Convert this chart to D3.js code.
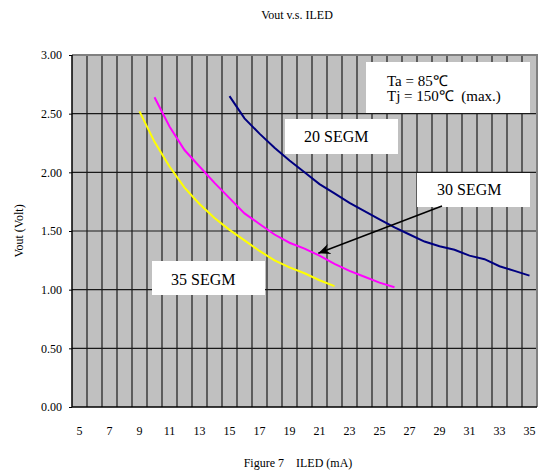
<!DOCTYPE html>
<html>
<head>
<meta charset="utf-8">
<script src="https://cdn.jsdelivr.net/npm/d3@7"></script>
<style>
  body { margin: 0; background: #fff; }
</style>
</head>
<body>
<div id="chart"></div>
<script>
// ILED categories (mA), one per grid column
const currents = d3.range(5, 36);
const tickLabels = [5, 7, 9, 11, 13, 15, 17, 19, 21, 23, 25, 27, 29, 31, 33, 35];
const yTicks = [0, 0.5, 1, 1.5, 2, 2.5, 3];

// Vout readings (Volt) for each series, starting at their first current
const seg20Start = 15;
const seg20 = [2.65, 2.46, 2.33, 2.21, 2.10, 2.00, 1.90, 1.82, 1.74, 1.67, 1.60,
               1.53, 1.47, 1.41, 1.37, 1.34, 1.29, 1.26, 1.20, 1.16, 1.12];
const seg30Start = 10;
const seg30 = [2.64, 2.39, 2.19, 2.05, 1.91, 1.78, 1.65, 1.56, 1.47, 1.40, 1.35,
               1.29, 1.22, 1.16, 1.11, 1.06, 1.02];
const seg35Start = 9;
const seg35 = [2.52, 2.26, 2.05, 1.87, 1.73, 1.61, 1.51, 1.42, 1.33, 1.25, 1.19,
               1.14, 1.08, 1.03];

const W = 542, H = 470;
const pLeft = 72, pRight = 537, pTop = 55, pBottom = 407;
const SERIF = "'Liberation Serif', 'Times New Roman', serif";

const svg = d3.select("#chart").append("svg")
    .attr("width", W).attr("height", H)
    .attr("font-family", SERIF);

const x = d3.scaleBand().domain(currents).range([pLeft, pRight]).padding(0);
const y = d3.scaleLinear().domain([0, 3]).range([pBottom, pTop]);
const cx = v => x(v) + x.bandwidth() / 2;

// plot background
svg.append("rect")
    .attr("x", pLeft).attr("y", pTop)
    .attr("width", pRight - pLeft).attr("height", pBottom - pTop)
    .attr("fill", "#c0c0c0");

// grid: verticals at the category boundaries, horizontals at the ticks
const grid = svg.append("g").attr("stroke", "#1a1a1a").attr("stroke-width", 1.2);
grid.selectAll(".vg").data(currents.slice(1)).enter().append("line")
    .attr("x1", d => x(d)).attr("x2", d => x(d))
    .attr("y1", pTop).attr("y2", pBottom);
grid.selectAll(".hg").data(yTicks.slice(1, -1)).enter().append("line")
    .attr("x1", pLeft).attr("x2", pRight)
    .attr("y1", d => y(d)).attr("y2", d => y(d));

// frame: grey on top / right, black axes
svg.append("path")
    .attr("d", `M${pLeft},${pTop}H${pRight}V${pBottom}`)
    .attr("fill", "none").attr("stroke", "#808080").attr("stroke-width", 2);
svg.append("path")
    .attr("d", `M${pLeft},${pTop}V${pBottom}H${pRight}`)
    .attr("fill", "none").attr("stroke", "#000").attr("stroke-width", 1.5);

// axes
const xAxis = svg.append("g")
    .attr("transform", `translate(0,${pBottom})`)
    .call(d3.axisBottom(x).tickValues(tickLabels).tickSize(0).tickPadding(19));
xAxis.select(".domain").remove();
xAxis.attr("font-family", SERIF).attr("font-size", 12);

const yAxis = svg.append("g")
    .attr("transform", `translate(${pLeft},0)`)
    .call(d3.axisLeft(y).tickValues(yTicks).tickFormat(d3.format(".2f")).tickSize(3).tickPadding(7));
yAxis.select(".domain").remove();
yAxis.attr("font-family", SERIF).attr("font-size", 12);

// series
const series = [
    { start: seg35Start, vals: seg35, color: "#ffff00" },
    { start: seg30Start, vals: seg30, color: "#ff00ff" },
    { start: seg20Start, vals: seg20, color: "#000080" }
];
const line = d3.line().x(d => cx(d[0])).y(d => y(d[1]));
series.forEach(s => {
    const pts = s.vals.map((v, i) => [s.start + i, v]);
    svg.append("path")
        .attr("d", line(pts))
        .attr("fill", "none")
        .attr("stroke", s.color)
        .attr("stroke-width", 2);
});

// annotation boxes
function box(x0, y0, w, h) {
    svg.append("rect").attr("x", x0).attr("y", y0).attr("width", w).attr("height", h).attr("fill", "#fff");
}
box(366, 62, 164, 51);
box(285, 119, 113, 35);
box(417, 173, 113, 34);
box(152, 261, 113, 34);

function label(tx, ty, size, str) {
    svg.append("text").attr("x", tx).attr("y", ty)
        .attr("font-size", size).attr("xml:space", "preserve").text(str);
}
label(387, 86, 15, "Ta = 85℃");
label(387, 101, 15, "Tj = 150℃  (max.)");
label(304, 142, 16, "20 SEGM");
label(437, 195, 16, "30 SEGM");
label(171, 285, 16, "35 SEGM");

// arrow from the 30 SEGM label to its curve
svg.append("defs").append("marker")
    .attr("id", "arr").attr("viewBox", "0 0 10 10")
    .attr("refX", 9).attr("refY", 5)
    .attr("markerWidth", 9).attr("markerHeight", 9)
    .attr("orient", "auto")
    .append("path").attr("d", "M0,1 L9,5 L0,9 L3,5 Z").attr("fill", "#000");
svg.append("line")
    .attr("x1", cx(29) + 2.5).attr("y1", y(1.713))
    .attr("x2", cx(21) - 1.2).attr("y2", y(1.31))
    .attr("stroke", "#000").attr("stroke-width", 1.5)
    .attr("marker-end", "url(#arr)");

// titles
svg.append("text").attr("x", 297).attr("y", 19).attr("text-anchor", "middle")
    .attr("font-size", 12).text("Vout v.s. ILED");
svg.append("text").attr("x", 298).attr("y", 467).attr("text-anchor", "middle")
    .attr("font-size", 12).attr("xml:space", "preserve").text("Figure 7    ILED (mA)");
svg.append("text")
    .attr("transform", `translate(23,231) rotate(-90)`)
    .attr("text-anchor", "middle")
    .attr("font-size", 12).text("Vout (Volt)");
</script>
</body>
</html>
